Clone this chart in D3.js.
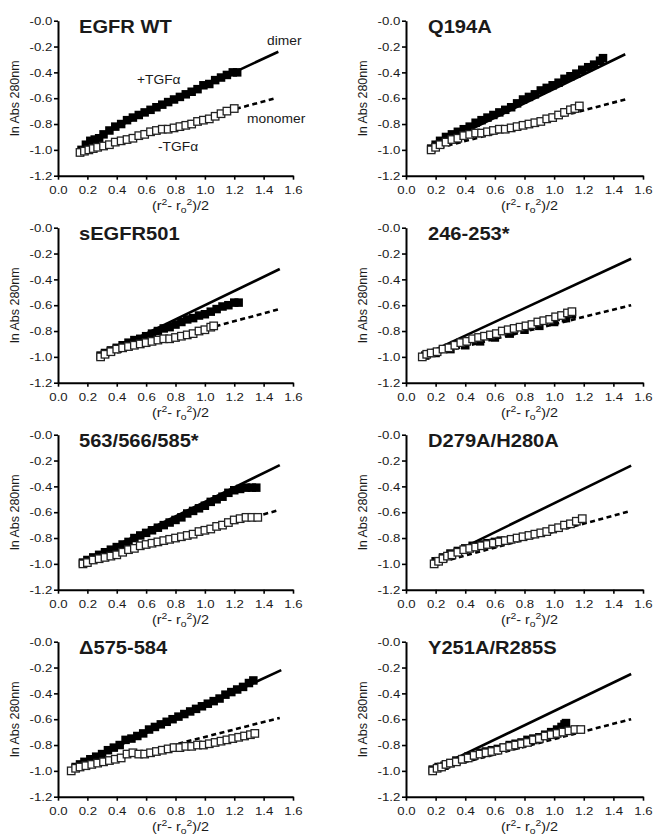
<!DOCTYPE html>
<html>
<head>
<meta charset="utf-8">
<script src="https://cdn.jsdelivr.net/npm/d3@7"></script>
<style>
  body { margin: 0; background: #fff; }
  text { font-family: "Liberation Sans", Arial, Helvetica, sans-serif; fill: #1a1a1a; }
</style>
</head>
<body>
<script>
    // panel titles, row by row
    var panelTitles = ["EGFR WT", "Q194A", "sEGFR501", "246-253*", "563/566/585*", "D279A/H280A", "\u0394575-584", "Y251A/R285S"];

    // tick values and their printed labels
    var xTicks = [0, 0.2, 0.4, 0.6, 0.8, 1.0, 1.2, 1.4, 1.6];
    var xTickLabels = ["0.0", "0.2", "0.4", "0.6", "0.8", "1.0", "1.2", "1.4", "1.6"];
    var yTicks = [0, -0.2, -0.4, -0.6, -0.8, -1.0, -1.2];
    var yTickLabels = ["-0.0", "-0.2", "-0.4", "-0.6", "-0.8", "-1.0", "-1.2"];

    // +TGFa (filled squares), [x, ln Abs]
    var wtPlus = [[0.16,-1.00],[0.19,-0.96],[0.22,-0.93],[0.25,-0.92],[0.28,-0.91],[0.31,-0.88],[0.35,-0.85],[0.39,-0.82],[0.43,-0.80],[0.47,-0.77],[0.51,-0.75],[0.55,-0.73],[0.59,-0.71],[0.63,-0.69],[0.67,-0.67],[0.71,-0.65],[0.75,-0.63],[0.79,-0.61],[0.83,-0.59],[0.87,-0.57],[0.91,-0.55],[0.95,-0.53],[0.99,-0.50],[1.03,-0.49],[1.07,-0.46],[1.11,-0.44],[1.15,-0.42],[1.19,-0.40],[1.22,-0.40]];
    var q194Plus = [[0.17,-0.99],[0.20,-0.96],[0.23,-0.93],[0.27,-0.90],[0.31,-0.88],[0.35,-0.86],[0.39,-0.84],[0.43,-0.82],[0.47,-0.79],[0.51,-0.77],[0.55,-0.75],[0.59,-0.73],[0.63,-0.71],[0.67,-0.69],[0.71,-0.67],[0.75,-0.64],[0.79,-0.61],[0.83,-0.59],[0.87,-0.57],[0.91,-0.54],[0.95,-0.52],[0.99,-0.50],[1.03,-0.48],[1.07,-0.45],[1.11,-0.43],[1.15,-0.41],[1.19,-0.38],[1.23,-0.36],[1.27,-0.34],[1.31,-0.31],[1.33,-0.29]];
    var s501Plus = [[0.29,-0.99],[0.32,-0.97],[0.36,-0.95],[0.40,-0.93],[0.44,-0.91],[0.48,-0.89],[0.52,-0.87],[0.56,-0.86],[0.60,-0.84],[0.64,-0.82],[0.68,-0.80],[0.72,-0.78],[0.76,-0.77],[0.80,-0.75],[0.84,-0.73],[0.88,-0.71],[0.92,-0.70],[0.96,-0.68],[1.00,-0.67],[1.04,-0.65],[1.08,-0.63],[1.12,-0.61],[1.16,-0.60],[1.20,-0.58],[1.23,-0.58]];
    var d246Plus = [[0.13,-0.99],[0.20,-0.97],[0.30,-0.94],[0.40,-0.91],[0.50,-0.88],[0.60,-0.85],[0.70,-0.82],[0.80,-0.79],[0.90,-0.76],[1.00,-0.73],[1.08,-0.70],[1.12,-0.67]];
    var m563Plus = [[0.17,-0.99],[0.20,-0.97],[0.24,-0.95],[0.28,-0.93],[0.32,-0.91],[0.36,-0.89],[0.40,-0.87],[0.44,-0.85],[0.48,-0.83],[0.52,-0.80],[0.56,-0.78],[0.60,-0.76],[0.64,-0.74],[0.68,-0.72],[0.72,-0.70],[0.76,-0.68],[0.80,-0.66],[0.84,-0.64],[0.88,-0.61],[0.92,-0.59],[0.96,-0.57],[1.00,-0.55],[1.04,-0.52],[1.08,-0.50],[1.12,-0.48],[1.16,-0.45],[1.20,-0.43],[1.24,-0.42],[1.28,-0.41],[1.32,-0.41],[1.35,-0.41]];
    var d279Plus = [[0.20,-0.98],[0.25,-0.95],[0.30,-0.92],[0.35,-0.90],[0.40,-0.88],[0.45,-0.86],[0.50,-0.85],[0.55,-0.84],[0.60,-0.83],[0.64,-0.82]];
    var del575Plus = [[0.12,-0.97],[0.15,-0.95],[0.18,-0.93],[0.22,-0.91],[0.26,-0.89],[0.30,-0.87],[0.34,-0.84],[0.38,-0.82],[0.42,-0.80],[0.46,-0.76],[0.50,-0.75],[0.54,-0.73],[0.58,-0.71],[0.62,-0.68],[0.66,-0.66],[0.70,-0.64],[0.74,-0.62],[0.78,-0.60],[0.82,-0.58],[0.86,-0.56],[0.90,-0.54],[0.94,-0.52],[0.98,-0.50],[1.02,-0.48],[1.06,-0.46],[1.10,-0.44],[1.14,-0.41],[1.18,-0.39],[1.22,-0.37],[1.26,-0.35],[1.30,-0.32],[1.33,-0.30]];
    var y251Plus = [[0.18,-0.99],[0.22,-0.97],[0.26,-0.96],[0.30,-0.94],[0.34,-0.92],[0.38,-0.91],[0.42,-0.89],[0.46,-0.88],[0.50,-0.86],[0.54,-0.85],[0.58,-0.84],[0.62,-0.83],[0.66,-0.82],[0.70,-0.80],[0.74,-0.79],[0.78,-0.78],[0.82,-0.76],[0.86,-0.75],[0.90,-0.74],[0.94,-0.72],[0.98,-0.70],[1.02,-0.68],[1.05,-0.66],[1.07,-0.64],[1.08,-0.63]];

    // -TGFa (open squares)
    var wtMinus = [[0.15,-1.02],[0.18,-1.01],[0.21,-1.00],[0.24,-0.99],[0.27,-0.98],[0.31,-0.97],[0.35,-0.96],[0.39,-0.94],[0.43,-0.93],[0.47,-0.92],[0.51,-0.91],[0.55,-0.89],[0.59,-0.88],[0.63,-0.86],[0.67,-0.85],[0.71,-0.84],[0.75,-0.84],[0.79,-0.83],[0.83,-0.82],[0.87,-0.81],[0.91,-0.80],[0.95,-0.78],[0.99,-0.77],[1.03,-0.76],[1.07,-0.74],[1.11,-0.72],[1.15,-0.70],[1.20,-0.68]];
    var q194Minus = [[0.17,-1.00],[0.20,-0.98],[0.23,-0.96],[0.27,-0.94],[0.31,-0.92],[0.35,-0.91],[0.39,-0.89],[0.43,-0.88],[0.47,-0.87],[0.51,-0.87],[0.55,-0.86],[0.59,-0.85],[0.63,-0.84],[0.67,-0.84],[0.71,-0.83],[0.75,-0.82],[0.79,-0.81],[0.83,-0.80],[0.87,-0.79],[0.91,-0.78],[0.95,-0.76],[0.99,-0.75],[1.03,-0.73],[1.07,-0.71],[1.11,-0.69],[1.14,-0.68],[1.17,-0.66]];
    var s501Minus = [[0.29,-1.00],[0.32,-0.98],[0.36,-0.96],[0.40,-0.94],[0.44,-0.93],[0.48,-0.92],[0.52,-0.91],[0.56,-0.90],[0.60,-0.89],[0.64,-0.88],[0.68,-0.87],[0.72,-0.86],[0.76,-0.86],[0.80,-0.85],[0.84,-0.84],[0.88,-0.83],[0.92,-0.82],[0.96,-0.80],[1.00,-0.79],[1.04,-0.77],[1.06,-0.76]];
    var d246Minus = [[0.11,-1.00],[0.14,-0.98],[0.17,-0.97],[0.21,-0.96],[0.25,-0.94],[0.29,-0.93],[0.33,-0.91],[0.37,-0.89],[0.41,-0.88],[0.45,-0.86],[0.49,-0.85],[0.53,-0.84],[0.57,-0.83],[0.61,-0.82],[0.65,-0.80],[0.69,-0.79],[0.73,-0.78],[0.77,-0.77],[0.81,-0.76],[0.85,-0.75],[0.89,-0.73],[0.93,-0.72],[0.97,-0.71],[1.01,-0.69],[1.05,-0.68],[1.09,-0.66],[1.12,-0.65]];
    var m563Minus = [[0.17,-1.00],[0.20,-0.99],[0.24,-0.97],[0.28,-0.96],[0.32,-0.95],[0.36,-0.94],[0.40,-0.93],[0.44,-0.91],[0.48,-0.89],[0.52,-0.88],[0.56,-0.86],[0.60,-0.85],[0.64,-0.84],[0.68,-0.83],[0.72,-0.82],[0.76,-0.81],[0.80,-0.80],[0.84,-0.79],[0.88,-0.78],[0.92,-0.77],[0.96,-0.75],[1.00,-0.74],[1.04,-0.73],[1.08,-0.71],[1.12,-0.70],[1.16,-0.68],[1.20,-0.66],[1.24,-0.65],[1.28,-0.64],[1.32,-0.64],[1.36,-0.64]];
    var d279Minus = [[0.19,-1.00],[0.22,-0.98],[0.25,-0.96],[0.28,-0.94],[0.31,-0.93],[0.35,-0.91],[0.39,-0.89],[0.43,-0.88],[0.47,-0.87],[0.51,-0.86],[0.55,-0.85],[0.59,-0.84],[0.63,-0.83],[0.67,-0.82],[0.71,-0.81],[0.75,-0.80],[0.79,-0.79],[0.83,-0.78],[0.87,-0.77],[0.91,-0.76],[0.95,-0.75],[0.99,-0.73],[1.03,-0.72],[1.07,-0.70],[1.11,-0.69],[1.15,-0.67],[1.19,-0.65]];
    var del575Minus = [[0.09,-1.00],[0.12,-0.98],[0.15,-0.97],[0.19,-0.96],[0.23,-0.95],[0.27,-0.94],[0.31,-0.93],[0.35,-0.92],[0.39,-0.91],[0.43,-0.90],[0.47,-0.87],[0.51,-0.86],[0.55,-0.87],[0.59,-0.87],[0.63,-0.86],[0.67,-0.85],[0.71,-0.84],[0.75,-0.83],[0.79,-0.82],[0.83,-0.82],[0.87,-0.81],[0.91,-0.81],[0.95,-0.80],[0.99,-0.80],[1.03,-0.79],[1.07,-0.78],[1.11,-0.77],[1.15,-0.76],[1.19,-0.75],[1.23,-0.74],[1.27,-0.73],[1.31,-0.72],[1.34,-0.71]];
    var y251Minus = [[0.18,-1.00],[0.21,-0.98],[0.24,-0.97],[0.27,-0.95],[0.30,-0.94],[0.34,-0.93],[0.38,-0.91],[0.42,-0.90],[0.46,-0.88],[0.50,-0.87],[0.54,-0.86],[0.58,-0.85],[0.62,-0.84],[0.66,-0.82],[0.70,-0.81],[0.74,-0.80],[0.78,-0.79],[0.82,-0.78],[0.86,-0.76],[0.90,-0.75],[0.94,-0.73],[0.98,-0.72],[1.02,-0.71],[1.06,-0.70],[1.10,-0.69],[1.14,-0.68],[1.18,-0.68]];

    // model lines: dimer (solid) and monomer (dashed), end points
    var dimerLines = [
        [[0.20,-0.93],[1.50,-0.24]], [[0.17,-0.99],[1.48,-0.26]],
        [[0.29,-0.99],[1.51,-0.32]], [[0.11,-0.99],[1.52,-0.24]],
        [[0.16,-0.99],[1.51,-0.235]], [[0.18,-0.99],[1.52,-0.24]],
        [[0.10,-0.97],[1.52,-0.22]], [[0.16,-1.00],[1.52,-0.25]]
    ];
    var monomerLines = [
        [[0.15,-1.01],[1.48,-0.60]], [[0.17,-1.00],[1.48,-0.61]],
        [[0.29,-1.00],[1.51,-0.63]], [[0.11,-1.00],[1.52,-0.60]],
        [[0.17,-1.00],[1.50,-0.585]], [[0.19,-1.00],[1.52,-0.59]],
        [[0.09,-1.00],[1.51,-0.59]], [[0.17,-1.00],[1.52,-0.60]]
    ];

    var plusSeries = [wtPlus, q194Plus, s501Plus, d246Plus, m563Plus, d279Plus, del575Plus, y251Plus];
    var minusSeries = [wtMinus, q194Minus, s501Minus, d246Minus, m563Minus, d279Minus, del575Minus, y251Minus];

    var width = 653, height = 837;
    var sx = 1.15;          // the scanned lettering is a bit wide
    var panelH = 155, rowStep = 207, firstTop = 20.7;

    var svg = d3.select("body").append("svg")
        .attr("width", width)
        .attr("height", height);

    svg.append("rect").attr("width", width).attr("height", height).attr("fill", "#fff");

    // put a text at absolute x while stretching it horizontally
    function wideText(g, x, y, str) {
        return g.append("text")
            .attr("x", x / sx)
            .attr("y", y)
            .attr("transform", "scale(" + sx + ",1)")
            .text(str);
    }

    panelTitles.forEach(function (title, i) {
        var col = i % 2, row = Math.floor(i / 2);
        var top = firstTop + row * rowStep;
        var xr = col ? [406, 643] : [58, 293];

        var x = d3.scaleLinear().domain([0, 1.6]).range(xr);
        var y = d3.scaleLinear().domain([-1.2, 0]).range([top + panelH, top]);

        var g = svg.append("g");

        // axes
        var yAxis = g.append("g")
            .attr("transform", "translate(" + xr[0] + ",0)")
            .call(d3.axisLeft(y).tickValues(yTicks)
                .tickFormat(function (d, k) { return yTickLabels[k]; })
                .tickSize(4).tickSizeOuter(0).tickPadding(1));
        var xAxis = g.append("g")
            .attr("transform", "translate(0," + (top + panelH) + ")")
            .call(d3.axisBottom(x).tickValues(xTicks)
                .tickFormat(function (d, k) { return xTickLabels[k]; })
                .tickSize(4).tickSizeOuter(0).tickPadding(6));

        [yAxis, xAxis].forEach(function (a) {
            a.select(".domain").attr("stroke", "#000").attr("stroke-width", 2);
            a.selectAll(".tick line").attr("stroke", "#000").attr("stroke-width", 1.6);
            a.selectAll(".tick text")
                .attr("font-size", 11.5)
                .attr("fill", "#1a1a1a")
                .attr("transform", "scale(" + sx + ",1)")
                .style("font-family", "'Liberation Sans', Arial, sans-serif");
        });

        // model lines
        var line = d3.line().x(function (d) { return x(d[0]); }).y(function (d) { return y(d[1]); });
        g.append("path").datum(dimerLines[i])
            .attr("d", line).attr("fill", "none")
            .attr("stroke", "#000").attr("stroke-width", 2.6);
        g.append("path").datum(monomerLines[i])
            .attr("d", line).attr("fill", "none")
            .attr("stroke", "#000").attr("stroke-width", 2.6)
            .attr("stroke-dasharray", "5,3.5");

        // data squares
        var fs = 8.5, os = 7.5;
        g.selectAll("rect.plus")
            .data(plusSeries[i])
            .enter().append("rect")
            .attr("class", "plus")
            .attr("x", function (d) { return x(d[0]) - fs / 2; })
            .attr("y", function (d) { return y(d[1]) - fs / 2; })
            .attr("width", fs).attr("height", fs)
            .attr("fill", "#000");
        g.selectAll("rect.minus")
            .data(minusSeries[i])
            .enter().append("rect")
            .attr("class", "minus")
            .attr("x", function (d) { return x(d[0]) - os / 2; })
            .attr("y", function (d) { return y(d[1]) - os / 2; })
            .attr("width", os).attr("height", os)
            .attr("fill", "#fff")
            .attr("stroke", "#222").attr("stroke-width", 1.3);

        // title
        wideText(g, col ? 428 : 79, top + 12, title)
            .attr("font-size", 17.5).attr("font-weight", "bold").attr("fill", "#000");

        // axis titles
        var cx = (xr[0] + xr[1]) / 2 + 5;
        var xl = g.append("text")
            .attr("x", cx / sx)
            .attr("y", top + panelH + 34)
            .attr("transform", "scale(" + sx + ",1)")
            .attr("text-anchor", "middle")
            .attr("font-size", 12.5);
        xl.append("tspan").text("(r");
        xl.append("tspan").attr("font-size", 9).attr("dy", -5).text("2");
        xl.append("tspan").attr("dy", 5).text("- r");
        xl.append("tspan").attr("font-size", 9).attr("dy", 3).text("o");
        xl.append("tspan").attr("font-size", 9).attr("dy", -8).text("2");
        xl.append("tspan").attr("dy", 5).text(")/2");

        g.append("text")
            .attr("transform", "translate(" + (xr[0] - 39) + "," + (top + panelH / 2) + ") rotate(-90)")
            .attr("text-anchor", "middle")
            .attr("font-size", 12.5)
            .text("ln Abs 280nm");

        // labels in the first panel
        if (i === 0) {
            wideText(g, 267, top + 24.5, "dimer").attr("font-size", 12);
            wideText(g, 137, top + 63.5, "+TGF\u03b1").attr("font-size", 12);
            wideText(g, 247, top + 102.5, "monomer").attr("font-size", 12);
            wideText(g, 158, top + 130.5, "-TGF\u03b1").attr("font-size", 12);
        }
    });
</script>
</body>
</html>
